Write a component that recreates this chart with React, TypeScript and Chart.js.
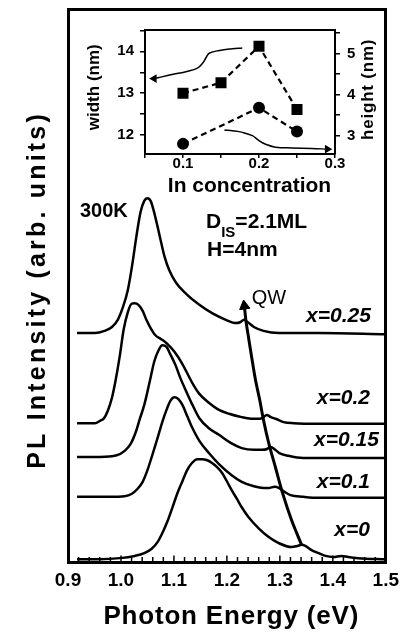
import React, { useEffect, useRef } from 'react';
import { Chart, registerables } from 'chart.js';

Chart.register(...registerables);

const FONT = "'Liberation Sans', Arial, Helvetica, sans-serif";

// ---------- Main panel: PL spectra at 300K (energy in eV, intensity in arb. units, offset stacks)
const E_X000 = [0.917, 0.96, 0.998, 1.026, 1.044, 1.058, 1.069, 1.078, 1.088, 1.097, 1.106, 1.116, 1.125, 1.134, 1.144, 1.153, 1.163, 1.172, 1.181, 1.191, 1.2, 1.209, 1.219, 1.228, 1.241, 1.26, 1.279, 1.298, 1.322, 1.333, 1.341, 1.348, 1.359, 1.373, 1.386, 1.401, 1.416, 1.429, 1.448, 1.5];
const PL_X000 = [0.5, 0.5, 0.7, 1.1, 1.6, 2.4, 3.6, 5.2, 7.4, 9.8, 12.3, 14.6, 16.6, 17.9, 18.6, 18.6, 18.4, 17.9, 17.2, 16.1, 14.6, 13.0, 11.4, 9.9, 8.1, 6.1, 4.5, 3.4, 2.7, 2.9, 3.1, 2.9, 2.2, 1.6, 1.1, 0.9, 1.1, 0.9, 0.7, 0.5];

const E_X010 = [0.917, 0.979, 1.007, 1.02, 1.031, 1.041, 1.05, 1.059, 1.069, 1.078, 1.086, 1.093, 1.101, 1.108, 1.116, 1.125, 1.134, 1.148, 1.166, 1.185, 1.209, 1.228, 1.251, 1.269, 1.279, 1.29, 1.298, 1.307, 1.32, 1.344, 1.373, 1.5];
const PL_X010 = [11.8, 11.8, 11.9, 12.3, 13.2, 14.5, 16.6, 19.3, 22.4, 25.3, 27.5, 29.1, 29.8, 29.5, 28.4, 26.4, 24.4, 21.9, 19.7, 17.7, 15.7, 14.5, 13.7, 13.4, 13.4, 13.6, 13.4, 12.8, 12.1, 11.8, 11.6, 11.6];

const E_X015 = [0.917, 0.96, 0.992, 1.007, 1.018, 1.028, 1.035, 1.044, 1.054, 1.063, 1.071, 1.078, 1.086, 1.093, 1.103, 1.112, 1.123, 1.134, 1.148, 1.166, 1.185, 1.208, 1.228, 1.251, 1.266, 1.275, 1.283, 1.29, 1.299, 1.316, 1.344, 1.5];
const PL_X015 = [19.0, 19.0, 19.3, 20.1, 21.3, 23.5, 25.7, 28.4, 32.5, 36.3, 38.3, 39.2, 38.9, 37.6, 35.6, 33.3, 30.9, 28.6, 26.0, 24.2, 23.0, 21.5, 20.6, 20.3, 20.3, 20.4, 20.8, 20.4, 19.7, 19.2, 18.8, 18.8];

const E_X020 = [0.917, 0.951, 0.96, 0.968, 0.975, 0.983, 0.99, 0.998, 1.005, 1.013, 1.02, 1.026, 1.033, 1.041, 1.048, 1.056, 1.065, 1.076, 1.088, 1.101, 1.116, 1.134, 1.148, 1.166, 1.185, 1.204, 1.228, 1.251, 1.262, 1.269, 1.275, 1.283, 1.292, 1.307, 1.326, 1.373, 1.5];
const PL_X020 = [25.1, 25.1, 25.5, 26.0, 27.3, 29.7, 32.9, 37.4, 42.0, 45.2, 46.7, 46.8, 46.5, 45.4, 43.8, 42.3, 41.0, 40.3, 39.4, 38.0, 35.8, 32.5, 30.4, 28.8, 27.5, 26.8, 26.2, 25.9, 25.9, 26.2, 26.6, 26.2, 25.9, 25.3, 25.1, 25.0, 25.0];

const E_X025 = [0.917, 0.951, 0.969, 0.983, 0.994, 1.003, 1.013, 1.022, 1.029, 1.037, 1.044, 1.05, 1.056, 1.063, 1.073, 1.082, 1.091, 1.104, 1.123, 1.148, 1.172, 1.198, 1.217, 1.226, 1.232, 1.239, 1.251, 1.269, 1.298, 1.373, 1.5];
const PL_X025 = [41.4, 41.4, 41.8, 42.5, 43.8, 45.9, 49.2, 54.2, 58.8, 63.3, 65.3, 65.8, 65.3, 63.1, 59.0, 55.3, 52.8, 50.5, 48.5, 46.5, 45.0, 43.8, 43.2, 43.4, 43.8, 43.4, 42.5, 41.8, 41.4, 41.4, 41.2];

// QW peak trace (arrow)
const QW_E = [1.341, 1.322, 1.305, 1.292, 1.279, 1.269, 1.262, 1.254, 1.247, 1.241, 1.236, 1.233];
const QW_PL = [3.1, 7.6, 12.5, 17.0, 21.5, 25.7, 29.3, 32.9, 36.9, 40.5, 43.6, 46.3];

const X_TICKS = [0.9, 1.0, 1.1, 1.2, 1.3, 1.4, 1.5];
const X_TICK_LABELS = ['0.9', '1.0', '1.1', '1.2', '1.3', '1.4', '1.5'];

// ---------- Inset: dot width / height vs In concentration
const WIDTH_CONC = [0.1, 0.15, 0.2, 0.25];
const WIDTH_NM = [13.0, 13.25, 14.12, 12.61];
const HEIGHT_CONC = [0.1, 0.2, 0.25];
const HEIGHT_NM = [2.8, 3.68, 3.1];

const INSET_X_TICKS = [0.05, 0.1, 0.15, 0.2, 0.25, 0.3];
const INSET_X_LABELS = ['', '0.1', '', '0.2', '', '0.3'];
const WIDTH_TICKS = [12, 12.5, 13, 13.5, 14, 14.5];
const WIDTH_LABELS = ['12', '', '13', '', '14', ''];
const HEIGHT_TICKS = [3, 3.5, 4, 4.5, 5, 5.5];
const HEIGHT_LABELS = ['3', '', '4', '', '5', ''];

// guide arrows inside the inset
const WIDTH_ARROW_X = [0.178, 0.165, 0.148, 0.135, 0.131, 0.126, 0.119, 0.105, 0.087, 0.072, 0.062];
const WIDTH_ARROW_Y = [14.08, 14.06, 14.02, 13.96, 13.87, 13.72, 13.6, 13.52, 13.45, 13.39, 13.35];
const HEIGHT_ARROW_X = [0.1545, 0.1653, 0.1783, 0.1913, 0.2, 0.2087, 0.2217, 0.2432, 0.2692, 0.29];
const HEIGHT_ARROW_Y = [3.14, 3.12, 3.08, 3.0, 2.88, 2.79, 2.72, 2.7, 2.69, 2.67];

const pts = (xs: number[], ys: number[]) => xs.map((x, i) => ({ x, y: ys[i] }));
const bold = (s: number) => `bold ${s}px ${FONT}`;

type Part = { text: string; font: string; dy?: number };
type Note = { parts: Part[]; e: number; pl: number; align: 'left' | 'right' };

const NOTES: Note[] = [
  { parts: [{ text: '300K', font: bold(20) }], e: 0.9225, pl: 63.3, align: 'left' },
  {
    parts: [
      { text: 'D', font: bold(21) },
      { text: 'IS', font: bold(15), dy: 10 },
      { text: '=2.1ML', font: bold(21) },
    ],
    e: 1.1606, pl: 61.4, align: 'left',
  },
  { parts: [{ text: 'H=4nm', font: bold(21) }], e: 1.1625, pl: 56.3, align: 'left' },
  { parts: [{ text: 'QW', font: `20px ${FONT}` }], e: 1.2469, pl: 47.6, align: 'left' },
  { parts: [{ text: 'x=0.25', font: `italic bold 21px ${FONT}` }], e: 1.4719, pl: 44.5, align: 'right' },
  { parts: [{ text: 'x=0.2', font: `italic bold 21px ${FONT}` }], e: 1.47, pl: 29.6, align: 'right' },
  { parts: [{ text: 'x=0.15', font: `italic bold 21px ${FONT}` }], e: 1.4869, pl: 22.1, align: 'right' },
  { parts: [{ text: 'x=0.1', font: `italic bold 21px ${FONT}` }], e: 1.47, pl: 14.5, align: 'right' },
  { parts: [{ text: 'x=0', font: `italic bold 21px ${FONT}` }], e: 1.47, pl: 5.7, align: 'right' },
];

type TitleStyle = { spacing: number; shift: number };

function titlePlugin(styles: Record<string, TitleStyle>) {
  return {
    id: 'customTitles',
    afterLayout(chart: any) {
      Object.keys(chart.scales).forEach((id) => {
        const scale: any = chart.scales[id];
        const st = styles[id];
        if (!st) return;
        scale.drawTitle = function () {
          const o = scale.options.title;
          if (!o || !o.display) return;
          const ctx: any = scale.ctx;
          const f = o.font;
          const size = f.size;
          const lh = size * (f.lineHeight || 1.2);
          const pad = o.padding;
          const pos = scale.options.position;
          let cx = 0, cy = 0, rot = 0;
          if (pos === 'bottom') {
            cx = (scale.left + scale.right) / 2 + st.shift;
            cy = scale.bottom - (pad.bottom || 0) - lh / 2;
          } else if (pos === 'left') {
            cx = scale.left + (pad.top || 0) + lh / 2;
            cy = (scale.top + scale.bottom) / 2 + st.shift;
            rot = -Math.PI / 2;
          } else {
            cx = scale.right - (pad.top || 0) - lh / 2;
            cy = (scale.top + scale.bottom) / 2 + st.shift;
            rot = -Math.PI / 2;
          }
          ctx.save();
          ctx.translate(cx, cy);
          ctx.rotate(rot);
          ctx.font = `${f.style || 'normal'} ${f.weight || 'normal'} ${size}px ${f.family}`;
          ctx.letterSpacing = `${st.spacing}px`;
          ctx.fillStyle = o.color || '#000';
          ctx.textAlign = 'left';
          ctx.textBaseline = 'middle';
          const w = ctx.measureText(o.text).width;
          ctx.fillText(o.text, -(w - st.spacing) / 2, 0);
          ctx.restore();
        };
      });
    },
  };
}

const mainDecor = {
  id: 'mainDecor',
  afterDraw(chart: any) {
    const ctx = chart.ctx;
    const xs = chart.scales.x;
    const ys = chart.scales.y;
    const bottom = chart.chartArea.bottom;
    ctx.save();
    // inward minor ticks on the energy axis
    ctx.strokeStyle = '#000';
    ctx.lineWidth = 1.5;
    for (let k = 1; k < 30; k++) {
      const v = 0.9 + k * 0.02;
      const px = xs.getPixelForValue(v);
      const len = k % 5 === 0 ? 5 : 3.5;
      ctx.beginPath();
      ctx.moveTo(px, bottom - 1);
      ctx.lineTo(px, bottom - 1.5 - len);
      ctx.stroke();
    }
    // text notes
    ctx.fillStyle = '#000';
    ctx.textBaseline = 'middle';
    ctx.textAlign = 'left';
    NOTES.forEach((n) => {
      const px = xs.getPixelForValue(n.e);
      const py = ys.getPixelForValue(n.pl);
      const widths = n.parts.map((p) => {
        ctx.font = p.font;
        return ctx.measureText(p.text).width;
      });
      const total = widths.reduce((a, b) => a + b, 0);
      let x = n.align === 'left' ? px : px - total;
      n.parts.forEach((p, i) => {
        ctx.font = p.font;
        ctx.fillText(p.text, x, py + (p.dy || 0));
        x += widths[i];
      });
    });
    ctx.restore();
  },
};

const curve = (xs: number[], ys: number[]) => ({
  data: pts(xs, ys),
  borderColor: '#000',
  borderWidth: 2.5,
  pointRadius: 0,
  cubicInterpolationMode: 'monotone' as const,
  fill: false,
});

export default function App() {
  const mainRef = useRef<HTMLCanvasElement | null>(null);
  const insetRef = useRef<HTMLCanvasElement | null>(null);

  useEffect(() => {
    if (!mainRef.current || !insetRef.current) return;

    const axisTitleFont = (size: number) => ({ family: FONT, size, weight: 'bold' as const, lineHeight: 1.2 });
    const frameBorder = { display: true, color: '#000', width: 3 };
    const noGrid = { display: false, drawTicks: false, lineWidth: 3 };

    const arrowRadii = QW_E.map((_, i) => (i === QW_E.length - 1 ? 6 : 0));

    const main = new Chart(mainRef.current, {
      type: 'line',
      data: {
        datasets: [
          curve(E_X000, PL_X000),
          curve(E_X010, PL_X010),
          curve(E_X015, PL_X015),
          curve(E_X020, PL_X020),
          curve(E_X025, PL_X025),
          {
            data: pts(QW_E, QW_PL),
            borderColor: '#000',
            backgroundColor: '#000',
            borderWidth: 3,
            tension: 0.3,
            pointRadius: arrowRadii,
            pointStyle: 'triangle',
            pointRotation: -8,
            pointBorderWidth: 1,
            fill: false,
          } as any,
        ],
      },
      options: {
        animation: false,
        responsive: false,
        devicePixelRatio: 1,
        events: [],
        layout: { padding: 0 },
        plugins: { legend: { display: false }, tooltip: { enabled: false } },
        scales: {
          x: {
            type: 'linear',
            position: 'bottom',
            min: 0.9,
            max: 1.5,
            afterBuildTicks: (s: any) => {
              s.ticks = X_TICKS.map((v) => ({ value: v }));
            },
            afterFit: (s: any) => {
              s.height = 73;
            },
            ticks: {
              callback: (_v: any, i: number) => X_TICK_LABELS[i],
              color: '#000',
              font: { family: FONT, size: 19, weight: 'bold' },
              padding: 7,
              maxRotation: 0,
              autoSkip: false,
            },
            grid: noGrid,
            border: frameBorder,
            title: {
              display: true,
              text: 'Photon Energy (eV)',
              color: '#000',
              font: axisTitleFont(26),
              padding: { top: 0, bottom: 3 },
            },
          },
          xTop: {
            type: 'linear',
            position: 'top',
            min: 0,
            max: 1,
            ticks: { display: false },
            grid: noGrid,
            border: frameBorder,
            afterFit: (s: any) => {
              s.height = 9;
            },
          },
          y: {
            type: 'linear',
            position: 'left',
            min: 0,
            max: 100,
            ticks: { display: false },
            grid: noGrid,
            border: frameBorder,
            afterFit: (s: any) => {
              s.width = 68;
            },
            title: {
              display: true,
              text: 'PL Intensity (arb. units)',
              color: '#000',
              font: axisTitleFont(25),
              padding: { top: 23, bottom: 0 },
            },
          },
          yRight: {
            type: 'linear',
            position: 'right',
            min: 0,
            max: 1,
            ticks: { display: false },
            grid: noGrid,
            border: frameBorder,
            afterFit: (s: any) => {
              s.width = 18;
            },
          },
        },
      } as any,
      plugins: [titlePlugin({ x: { spacing: 0.8, shift: 4 }, y: { spacing: 3.2, shift: 6 } }), mainDecor],
    });

    const insetBorder = { display: true, color: '#000', width: 2 };
    const insetGrid = { display: true, drawOnChartArea: false, drawTicks: true, tickLength: 5, color: '#000', lineWidth: 1.5 };
    const tickFont = { family: FONT, size: 15, weight: 'bold' as const, lineHeight: 1 };

    const wRadii = WIDTH_ARROW_X.map((_, i) => (i === WIDTH_ARROW_X.length - 1 ? 3.5 : 0));
    const hRadii = HEIGHT_ARROW_X.map((_, i) => (i === HEIGHT_ARROW_X.length - 1 ? 3.5 : 0));

    const inset = new Chart(insetRef.current, {
      type: 'line',
      data: {
        datasets: [
          {
            data: pts(WIDTH_ARROW_X, WIDTH_ARROW_Y),
            yAxisID: 'yL',
            borderColor: '#000',
            backgroundColor: '#000',
            borderWidth: 1.5,
            tension: 0.4,
            pointRadius: wRadii,
            pointStyle: 'triangle',
            pointRotation: -90,
            fill: false,
          } as any,
          {
            data: pts(HEIGHT_ARROW_X, HEIGHT_ARROW_Y),
            yAxisID: 'yR',
            borderColor: '#000',
            backgroundColor: '#000',
            borderWidth: 1.5,
            tension: 0.4,
            pointRadius: hRadii,
            pointStyle: 'triangle',
            pointRotation: 90,
            fill: false,
          } as any,
          {
            data: pts(WIDTH_CONC, WIDTH_NM),
            yAxisID: 'yL',
            borderColor: '#000',
            backgroundColor: '#000',
            borderWidth: 2.2,
            borderDash: [6, 4],
            tension: 0,
            pointRadius: 7.8,
            pointStyle: 'rect',
            pointBorderWidth: 0,
            fill: false,
          },
          {
            data: pts(HEIGHT_CONC, HEIGHT_NM),
            yAxisID: 'yR',
            borderColor: '#000',
            backgroundColor: '#000',
            borderWidth: 2.2,
            borderDash: [6, 4],
            tension: 0,
            pointRadius: 6,
            pointStyle: 'circle',
            pointBorderWidth: 0,
            fill: false,
          },
        ],
      },
      options: {
        animation: false,
        responsive: false,
        devicePixelRatio: 1,
        events: [],
        layout: { padding: 0 },
        plugins: { legend: { display: false }, tooltip: { enabled: false } },
        scales: {
          x: {
            type: 'linear',
            position: 'bottom',
            min: 0.05,
            max: 0.3,
            afterBuildTicks: (s: any) => {
              s.ticks = INSET_X_TICKS.map((v) => ({ value: v }));
            },
            afterFit: (s: any) => {
              s.height = 46;
            },
            ticks: {
              callback: (_v: any, i: number) => INSET_X_LABELS[i],
              color: '#000',
              font: tickFont,
              padding: -2,
              maxRotation: 0,
              autoSkip: false,
            },
            grid: { ...insetGrid, tickLength: 4 },
            border: insetBorder,
            title: {
              display: true,
              text: 'In concentration',
              color: '#000',
              font: axisTitleFont(21),
              padding: { top: 0, bottom: 1 },
            },
          },
          xTop: {
            type: 'linear',
            position: 'top',
            min: 0,
            max: 1,
            ticks: { display: false },
            grid: { display: false, drawTicks: false, lineWidth: 2 },
            border: insetBorder,
            afterFit: (s: any) => {
              s.height = 10;
            },
          },
          yL: {
            type: 'linear',
            position: 'left',
            min: 11.55,
            max: 14.52,
            afterBuildTicks: (s: any) => {
              s.ticks = WIDTH_TICKS.map((v) => ({ value: v }));
            },
            afterFit: (s: any) => {
              s.width = 65;
            },
            ticks: {
              callback: (_v: any, i: number) => WIDTH_LABELS[i],
              color: '#000',
              font: tickFont,
              padding: 6,
              autoSkip: false,
            },
            grid: insetGrid,
            border: insetBorder,
            title: {
              display: true,
              text: 'width (nm)',
              color: '#000',
              font: axisTitleFont(17),
              padding: { top: 3.8, bottom: 0 },
            },
          },
          yR: {
            type: 'linear',
            position: 'right',
            min: 2.553,
            max: 5.59,
            afterBuildTicks: (s: any) => {
              s.ticks = HEIGHT_TICKS.map((v) => ({ value: v }));
            },
            afterFit: (s: any) => {
              s.width = 60;
            },
            ticks: {
              callback: (_v: any, i: number) => HEIGHT_LABELS[i],
              color: '#000',
              font: tickFont,
              padding: 7,
              autoSkip: false,
            },
            grid: insetGrid,
            border: insetBorder,
            title: {
              display: true,
              text: 'height (nm)',
              color: '#000',
              font: axisTitleFont(17),
              padding: { top: 16.8, bottom: 0 },
            },
          },
        },
      } as any,
      plugins: [
        titlePlugin({
          x: { spacing: 0, shift: 9.5 },
          yL: { spacing: 0, shift: -4.5 },
          yR: { spacing: 0.8, shift: -2 },
        }),
      ],
    });

    return () => {
      main.destroy();
      inset.destroy();
    };
  }, []);

  return (
    <div style={{ position: 'fixed', left: 0, top: 0, width: 406, height: 635, background: '#fff' }}>
      <canvas ref={mainRef} width={406} height={635} style={{ position: 'absolute', left: 0, top: 0, width: 406, height: 635 }} />
      <canvas ref={insetRef} width={315} height={185} style={{ position: 'absolute', left: 80, top: 15, width: 315, height: 185 }} />
    </div>
  );
}
